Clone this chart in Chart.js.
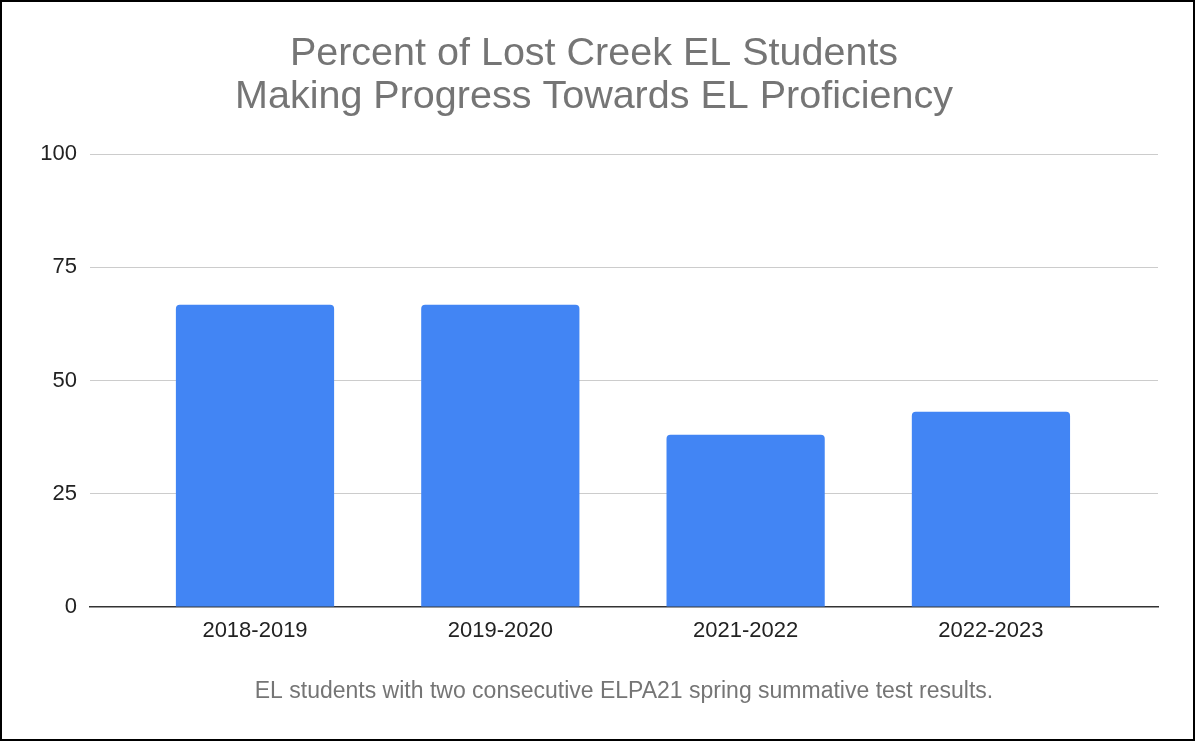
<!DOCTYPE html>
<html>
<head>
<meta charset="utf-8">
<script src="https://cdn.jsdelivr.net/npm/chart.js@4"></script>
<style>
  html, body { margin: 0; padding: 0; background: #fff; }
  #wrap { position: relative; width: 1195px; height: 741px; }
  #frame { position: absolute; left: 0; top: 0; width: 1195px; height: 741px; box-sizing: border-box; border: 2px solid #000; pointer-events: none; }
</style>
</head>
<body>
<div id="wrap">
  <canvas id="c" width="1195" height="741"></canvas>
  <div id="frame"></div>
</div>
<script>
const categories = ['2018-2019', '2019-2020', '2021-2022', '2022-2023'];
const values = [66.7, 66.7, 38.0, 43.1];
const yTicks = [0, 25, 50, 75, 100];
const titleLines = ['Percent of Lost Creek EL Students', 'Making Progress Towards EL Proficiency'];
const footnote = 'EL students with two consecutive ELPA21 spring summative test results.';

const FONT = '"Liberation Sans", Arial, Helvetica, sans-serif';

new Chart(document.getElementById('c'), {
  type: 'bar',
  data: {
    datasets: [{
      data: values.map((v, i) => ({ x: i, y: v })),
      backgroundColor: '#4285F4',
      borderRadius: { topLeft: 4, topRight: 4, bottomLeft: 0, bottomRight: 0 },
      borderSkipped: 'start',
      categoryPercentage: 1.0,
      barPercentage: 0.645
    }]
  },
  options: {
    responsive: false,
    animation: false,
    devicePixelRatio: 1,
    layout: { padding: { left: 30, right: 37, top: 0, bottom: 36 } },
    plugins: {
      legend: { display: false },
      tooltip: { enabled: false },
      title: {
        display: true,
        text: titleLines,
        color: '#757575',
        font: { family: FONT, size: 39.5, weight: 'normal', lineHeight: 1.089 },
        padding: { top: 32.5, bottom: 35.5 }
      }
    },
    scales: {
      x: {
        type: 'linear',
        offset: false,
        min: -0.6726,
        max: 3.681,
        afterBuildTicks: (axis) => { axis.ticks = categories.map((_, i) => ({ value: i })); },
        ticks: {
          autoSkip: false,
          maxRotation: 0,
          color: '#222',
          font: { family: FONT, size: 22 },
          padding: 11,
          callback: (v) => categories[v] !== undefined ? categories[v] : ''
        },
        grid: { display: false, drawTicks: false },
        border: { display: true, color: '#333', width: 1.5 },
        title: {
          display: true,
          text: footnote,
          color: '#757575',
          font: { family: FONT, size: 23, lineHeight: 1.2 },
          padding: { top: 22.1, bottom: 0 }
        }
      },
      y: {
        min: 0,
        max: 100,
        afterBuildTicks: (axis) => { axis.ticks = yTicks.map(v => ({ value: v })); },
        afterFit: (axis) => { axis.width = 60; },
        ticks: {
          color: '#222',
          font: { family: FONT, size: 22 },
          padding: 13
        },
        grid: {
          color: (ctx) => ctx.tick && ctx.tick.value === 0 ? 'rgba(0,0,0,0)' : '#cccccc',
          lineWidth: 1,
          drawTicks: false
        },
        border: { display: false }
      }
    }
  }
});
</script>
</body>
</html>
